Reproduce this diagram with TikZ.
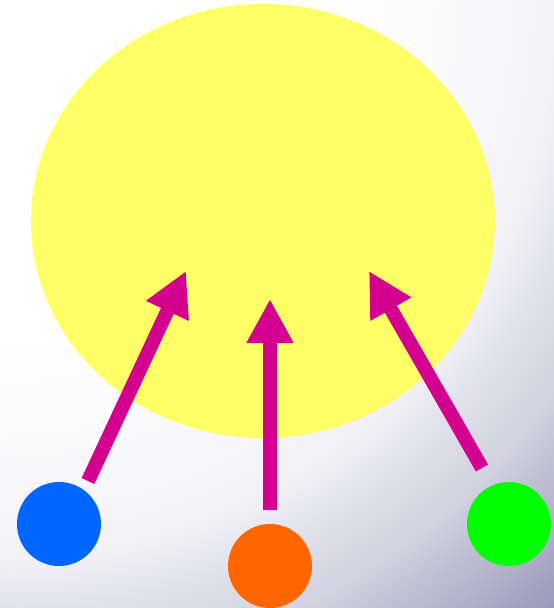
\documentclass[tikz,border=0pt]{standalone}
\usepackage{xcolor}
\usetikzlibrary{arrows.meta,positioning,shapes.geometric}
\definecolor{BgDark}{HTML}{9A9ABA}
\definecolor{SunYellow}{HTML}{FFFF66}
\definecolor{PushMagenta}{HTML}{D40090}
\definecolor{DotBlue}{HTML}{0066FF}
\definecolor{DotOrange}{HTML}{FF6600}
\definecolor{DotGreen}{HTML}{00FF00}
\colorlet{BgA}{BgDark!4!white}
\colorlet{BgB}{BgDark!12!white}
\colorlet{BgC}{BgDark!29!white}
\colorlet{BgD}{BgDark!45!white}
\colorlet{BgE}{BgDark!64!white}
\pgfdeclareradialshading{bgglow}{\pgfpoint{0pt}{0pt}}{color(0pt)=(white); color(300pt)=(white); color(430pt)=(BgA); color(555pt)=(BgB); color(610pt)=(BgC); color(678pt)=(BgD); color(725pt)=(BgE); color(820pt)=(BgDark); color(880pt)=(BgDark)}

\begin{document}
\begin{tikzpicture}[x=1pt, y=-1pt,
    dot/.style={circle, minimum size=84pt, inner sep=0pt},
    push/.style={-{Triangle[length=44pt, width=44pt]}, line width=14pt, PushMagenta}]
    % Background
    \useasboundingbox (0,0) rectangle (554,608);
    \begin{scope}
        \clip (0,0) rectangle (554,608);
        \node[inner sep=0pt] (glow) at (0,0) {\pgfuseshading{bgglow}};
    \end{scope}

    % Big yellow disc
    \node[ellipse, fill=SunYellow, minimum width=464pt, minimum height=434pt, inner sep=0pt] (sun) at (263,221) {};

    % Small dots
    \node[dot, fill=DotBlue] (blue) at (59,524) {};
    \node[dot, fill=DotOrange] (orange) at (270,566) {};
    \node[dot, fill=DotGreen] (green) at (509,524) {};

    % Arrow ends
    \coordinate (blue-tail) at (88,481);
    \coordinate (orange-tail) at (270,510);
    \coordinate (green-tail) at (482,468);
    \coordinate (blue-tip) at (186,271);
    \coordinate (orange-tip) at (270,299);
    \coordinate (green-tip) at (369,271);

    % Arrows
    \draw[push] (blue-tail) -- (blue-tip);
    \draw[push] (orange-tail) -- (orange-tip);
    \draw[push] (green-tail) -- (green-tip);
\end{tikzpicture}
\end{document}
